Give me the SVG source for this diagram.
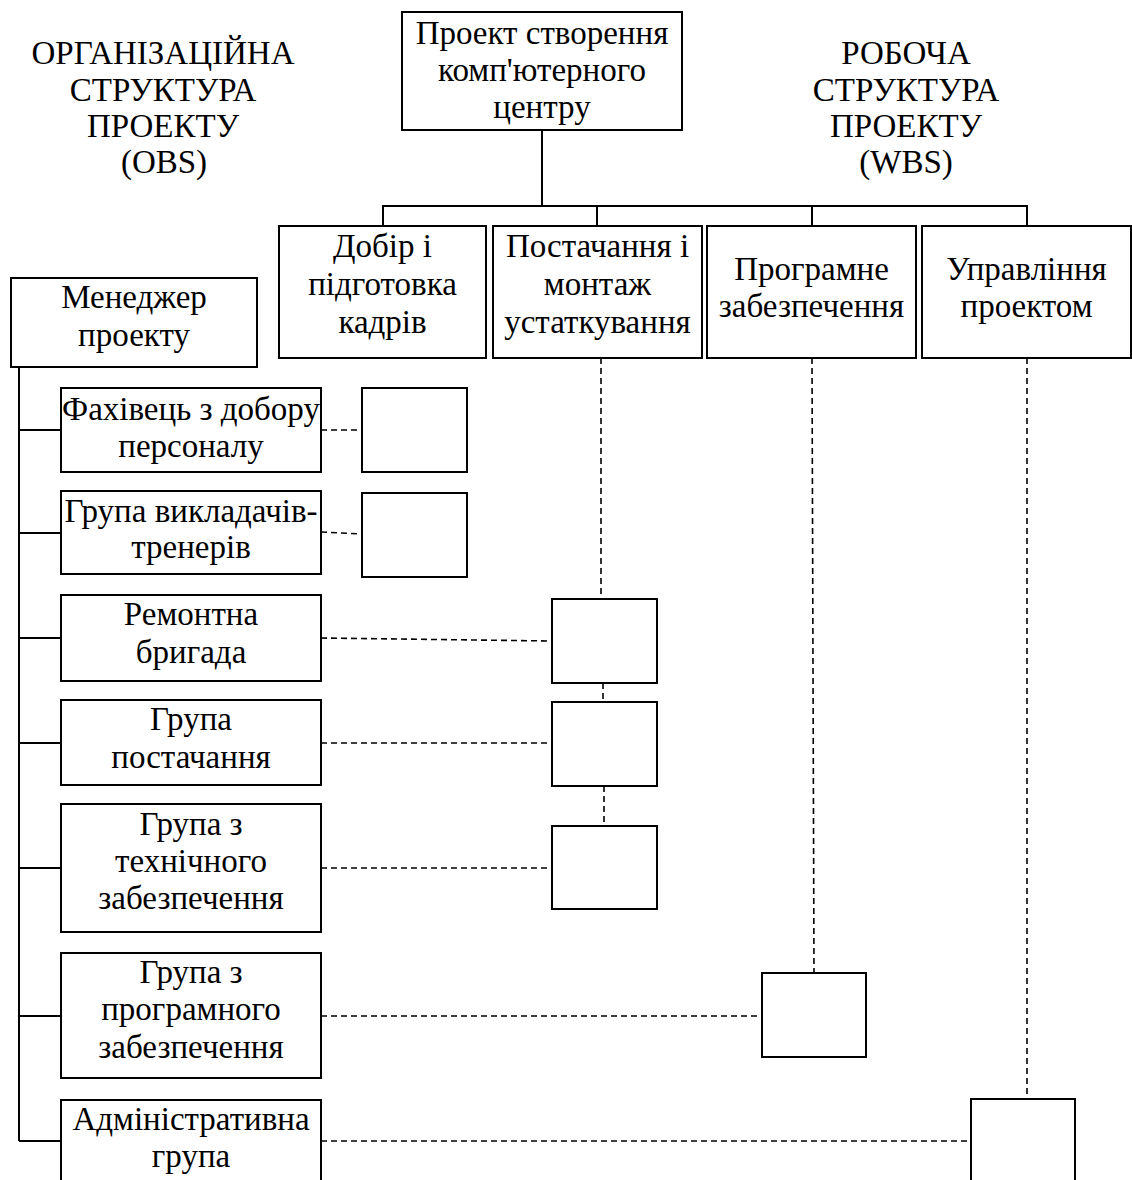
<svg xmlns="http://www.w3.org/2000/svg" width="1132" height="1180" viewBox="0 0 1132 1180">
<style>
.b{fill:#fff;stroke:#000;stroke-width:2}
.t{font-family:"Liberation Serif","Times New Roman",serif;font-size:33px;fill:#000;text-anchor:middle}
.s{fill:none;stroke:#000;stroke-width:2}
.d{fill:none;stroke:#000;stroke-width:1.6;stroke-dasharray:6 4}
</style>
<rect width="1132" height="1180" fill="#fff"/>
<g id="title-obs">
<text class="t" x="163" y="64">ОРГАНІЗАЦІЙНА</text>
<text class="t" x="163" y="101">СТРУКТУРА</text>
<text class="t" x="163" y="137">ПРОЕКТУ</text>
<text class="t" x="164" y="173">(OBS)</text>
</g>
<g id="title-wbs">
<text class="t" x="906" y="64">РОБОЧА</text>
<text class="t" x="906" y="101">СТРУКТУРА</text>
<text class="t" x="906" y="137">ПРОЕКТУ</text>
<text class="t" x="906" y="173">(WBS)</text>
</g>
<g id="connectors">
<path class="s" d="M542 130V206M383 226V206H1027V226M597 206V226M812 206V226"/>
<path class="s" d="M19 367V1141M19 430H61M19 533H61M19 638H61M19 743H61M19 868H61M19 1016H61M19 1141H61"/>
<path class="d" d="M321 430H362M321 532L362 534M321 638L552 641M321 743H552M321 868H552M321 1016H762M321 1141H971"/>
<path class="d" d="M601 358V599M603 683V702M604 786V826M812 358L814 973M1027 358V1099"/>
</g>
<g id="wbs-root"><rect class="b" x="402" y="12" width="280" height="118"/>
<text class="t" x="542" y="44">Проект створення</text>
<text class="t" x="542" y="81">комп'ютерного</text>
<text class="t" x="542" y="118">центру</text></g>
<g id="wbs-1"><rect class="b" x="279" y="226" width="207" height="132"/>
<text class="t" x="382.5" y="257">Добір і</text>
<text class="t" x="382.5" y="295">підготовка</text>
<text class="t" x="382.5" y="333">кадрів</text></g>
<g id="wbs-2"><rect class="b" x="493" y="226" width="209" height="132"/>
<text class="t" x="597.5" y="257">Постачання і</text>
<text class="t" x="597.5" y="295">монтаж</text>
<text class="t" x="597.5" y="333">устаткування</text></g>
<g id="wbs-3"><rect class="b" x="707" y="226" width="209" height="132"/>
<text class="t" x="811.5" y="280">Програмне</text>
<text class="t" x="811.5" y="317">забезпечення</text></g>
<g id="wbs-4"><rect class="b" x="922" y="226" width="209" height="132"/>
<text class="t" x="1026.5" y="280">Управління</text>
<text class="t" x="1026.5" y="317">проектом</text></g>
<g id="obs-manager"><rect class="b" x="11" y="278" width="246" height="89"/>
<text class="t" x="134" y="308">Менеджер</text>
<text class="t" x="134" y="346">проекту</text></g>
<g id="obs-1"><rect class="b" x="61" y="388" width="260" height="84"/>
<text class="t" x="191" y="420">Фахівець з добору</text>
<text class="t" x="191" y="457">персоналу</text></g>
<g id="obs-2"><rect class="b" x="61" y="491" width="260" height="83"/>
<text class="t" x="191" y="522">Група викладачів-</text>
<text class="t" x="191" y="558">тренерів</text></g>
<g id="obs-3"><rect class="b" x="61" y="595" width="260" height="86"/>
<text class="t" x="191" y="625">Ремонтна</text>
<text class="t" x="191" y="663">бригада</text></g>
<g id="obs-4"><rect class="b" x="61" y="700" width="260" height="85"/>
<text class="t" x="191" y="730">Група</text>
<text class="t" x="191" y="768">постачання</text></g>
<g id="obs-5"><rect class="b" x="61" y="804" width="260" height="128"/>
<text class="t" x="191" y="835">Група з</text>
<text class="t" x="191" y="872">технічного</text>
<text class="t" x="191" y="909">забезпечення</text></g>
<g id="obs-6"><rect class="b" x="61" y="953" width="260" height="125"/>
<text class="t" x="191" y="983">Група з</text>
<text class="t" x="191" y="1020">програмного</text>
<text class="t" x="191" y="1058">забезпечення</text></g>
<g id="obs-7"><rect class="b" x="61" y="1100" width="260" height="100"/>
<text class="t" x="191" y="1130">Адміністративна</text>
<text class="t" x="191" y="1167">група</text></g>
<g id="cell-1"><rect class="b" x="362" y="388" width="105" height="84"/></g>
<g id="cell-2"><rect class="b" x="362" y="493" width="105" height="84"/></g>
<g id="cell-3"><rect class="b" x="552" y="599" width="105" height="84"/></g>
<g id="cell-4"><rect class="b" x="552" y="702" width="105" height="84"/></g>
<g id="cell-5"><rect class="b" x="552" y="826" width="105" height="83"/></g>
<g id="cell-6"><rect class="b" x="762" y="973" width="104" height="84"/></g>
<g id="cell-7"><rect class="b" x="971" y="1099" width="104" height="100"/></g>
</svg>
